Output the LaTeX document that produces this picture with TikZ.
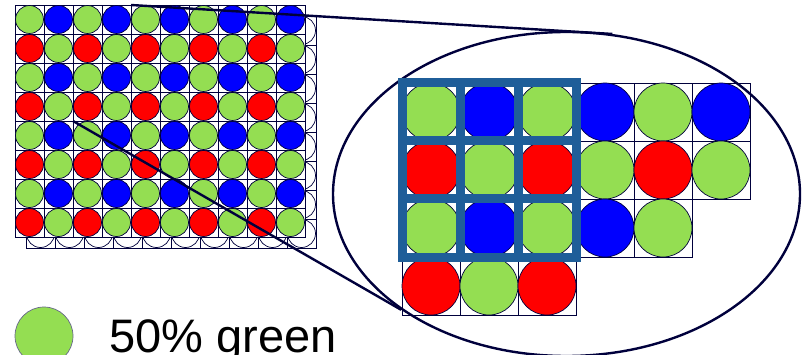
\documentclass[tikz,border=0pt]{standalone}
\usepackage{fontspec}
\setmainfont{Liberation Sans}
\usetikzlibrary{shapes.geometric}

\definecolor{pixgreen}{RGB}{148,222,82}
\definecolor{pixblue}{RGB}{0,0,255}
\definecolor{pixred}{RGB}{255,0,0}
\definecolor{navy}{RGB}{0,0,60}
\definecolor{framebl}{RGB}{31,94,153}
% colour of a pixel by 2*(row mod 2)+(col mod 2)
\colorlet{pc0}{pixgreen}
\colorlet{pc1}{pixblue}
\colorlet{pc2}{pixred}
\colorlet{pc3}{pixgreen}

\begin{document}
\begin{tikzpicture}[
        x=1pt,y=-1pt,
        cellline/.style={draw=navy,line width=0.7pt},
        pix/.style={circle,draw=navy,line width=0.7pt,inner sep=0pt,minimum size=#1},
        zoomline/.style={draw=navy,line width=2.4pt}
    ]
        \clip (0,0) rectangle (802,355);

        % layer behind the small sensor
        \foreach \r in {0,...,7}
            \foreach \c in {0,...,9} {
                \draw[cellline] (26+\c*29,16+\r*29) rectangle ++(29,29);
                \node[pix=28pt,fill=white] (b-\r-\c) at (40.5+\c*29,30.5+\r*29) {};
            }

        % small sensor
        \fill[white] (15,5) rectangle (305,237);
        \foreach \r in {0,...,7}
            \foreach \c in {0,...,9} {
                \pgfmathtruncatemacro\k{2*mod(\r,2)+mod(\c,2)}
                \draw[cellline] (15+\c*29,5+\r*29) rectangle ++(29,29);
                \node[pix=28pt,fill=pc\k] (s-\r-\c) at (29.5+\c*29,19.5+\r*29) {};
            }

        % enlarged pixels
        \foreach \r/\n in {0/5,1/5,2/4,3/2}
            \foreach \c in {0,...,\n} {
                \pgfmathtruncatemacro\k{2*mod(\r,2)+mod(\c,2)}
                \draw[cellline] (402+\c*58,83+\r*58) rectangle ++(58,58);
                \node[pix=58pt,fill=pc\k] (z-\r-\c) at (431+\c*58,112+\r*58) {};
            }

        \node[ellipse,draw=navy,line width=2.4pt,minimum width=467pt,minimum height=324pt] (lens) at (566.5,194) {};

        % 3x3 block
        \draw[framebl,line width=9pt] (402,83) rectangle (576,257)
            (460,83) -- (460,257) (518,83) -- (518,257)
            (402,141) -- (576,141) (402,199) -- (576,199);

        \coordinate (src-a) at (131,5);
        \coordinate (src-b) at (73,121);
        \draw[zoomline] (src-a) -- (lens.74);
        \draw[zoomline] (src-b) -- (lens.215);

        % legend
        \node[pix=58pt,fill=pixgreen,draw=navy!60] (key) at (44,336) {};
        \node[anchor=base west,inner sep=0pt,font=\fontsize{47}{50}\selectfont] (keytext) at (109,352) {50\% green};
    \end{tikzpicture}
\end{document}
